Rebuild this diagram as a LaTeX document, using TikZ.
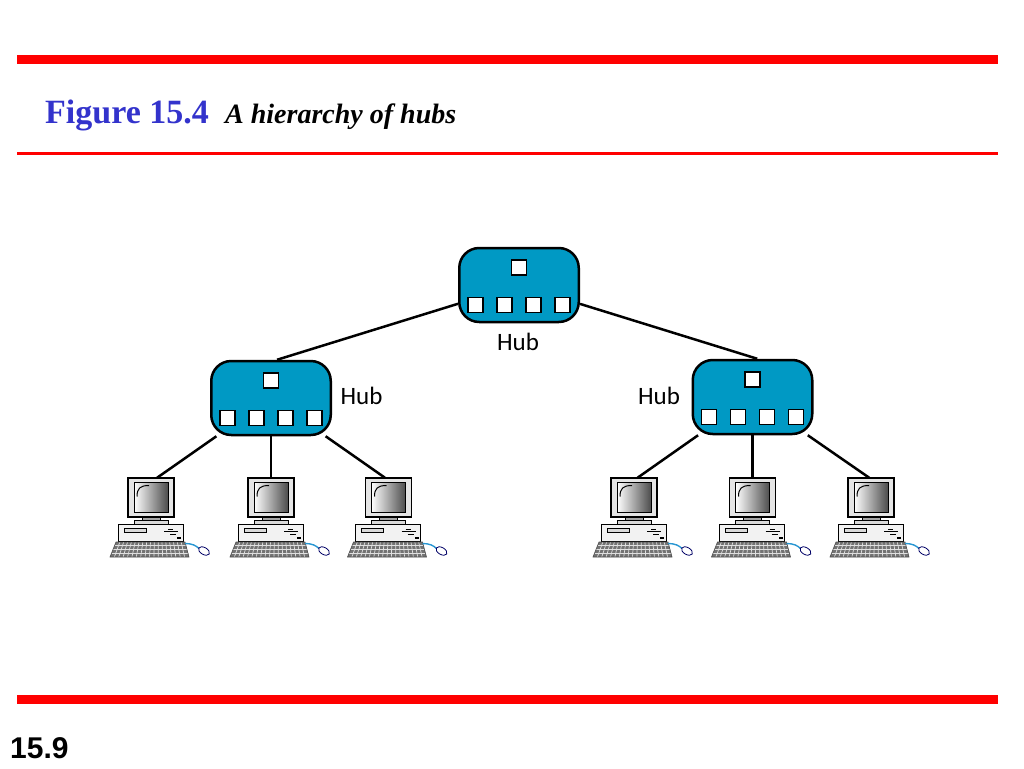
\documentclass[tikz,border=0pt]{standalone}
\usepackage{fontspec}
\setmainfont{Liberation Serif}
\newfontfamily\hubfont{Carlito}
\newfontfamily\numfont{Liberation Sans}
\usetikzlibrary{backgrounds}
\definecolor{hubblue}{RGB}{0,153,196}
\definecolor{figblue}{RGB}{51,51,204}
\definecolor{barred}{RGB}{255,0,0}
\definecolor{cableblue}{RGB}{40,150,210}
\tikzset{
  hubbox/.style={draw=black, line width=2.5pt, fill=hubblue, rounded corners=20pt,
    minimum width=119.5pt, minimum height=74pt, inner sep=0pt},
  port/.style={draw=black, line width=1.8pt, fill=white, minimum size=15pt, inner sep=0pt},
  link/.style={line width=2.5pt, draw=black},
  hublabel/.style={font=\hubfont\fontsize{25}{30}\selectfont, anchor=base, inner sep=0pt},
  pcnode/.style={minimum width=46pt, minimum height=39pt, inner sep=0pt},
  computer/.pic={
    % neck and plate
    \filldraw[fill=black!35, draw=black, line width=0.8pt] (-9,19.5) rectangle (9,22.5);
    \filldraw[fill=black!15, draw=black, line width=0.8pt] (-17,22.5) rectangle (17,26.5);
    % system unit
    \filldraw[fill=black!5, draw=black, line width=1pt] (-33,26.5) rectangle (32,43.5);
    \filldraw[fill=black!15, draw=black, line width=0.8pt] (-27,31) rectangle (-5,35);
    \draw[line width=1.2pt] (13,34) -- (27,34);
    \draw[line width=1pt] (17,31.5) -- (22,31.5);
    \draw[line width=1pt] (19,36.5) -- (25,36.5);
    \fill (26,39.2) rectangle (30,41.5);
    % monitor
    \filldraw[fill=black!10, draw=black, line width=1.2pt] (-23,-19.5) rectangle (23,19.5);
    \shade[left color=white, right color=black!70] (-17,-15) rectangle (17,14.5);
    \draw[line width=0.8pt] (-17,-15) rectangle (17,14.5);
    \draw[line width=1pt] (-14,-1) .. controls (-14,-9) and (-11,-12) .. (-2,-12);
    % keyboard
    \begin{scope}
      \clip (-35,44.5) -- (34,44.5) -- (38,59.5) -- (-41,59.5) -- cycle;
      \fill[black!55] (-45,40) rectangle (45,62);
      \foreach \yy in {48.2,52,55.8}
        \draw[black!12, line width=0.7pt] (-45,\yy) -- (45,\yy);
      \foreach \k in {1,...,17}
        \draw[black!12, line width=0.7pt] ({-35+69*\k/18},44.5) -- ({-41+79*\k/18},59.5);
    \end{scope}
    \draw[black!70, line width=0.6pt] (-35,44.5) -- (34,44.5) -- (38,59.5) -- (-41,59.5) -- cycle;
    % mouse
    \draw[cableblue, line width=1.4pt] (34,46) .. controls (41,46) and (45,48) .. (48,51);
    \filldraw[fill=white, draw=black!60!blue, line width=0.8pt, rotate around={-30:(53,53.5)}]
      (53,53.5) ellipse (6 and 3.5);
  }
}
\begin{document}
\begin{tikzpicture}[x=1pt, y=-1pt]
\useasboundingbox (0,0) rectangle (1024,768);
% frame bars
\fill[barred] (17,55.5) rectangle (998,63.5);
\fill[barred] (17,152) rectangle (998,154.5);
\fill[barred] (17,695) rectangle (998,703.5);
% titles
\node[anchor=base west, inner sep=0pt, text=figblue, font=\bfseries\fontsize{34}{40}\selectfont] (figno) at (45,123) {Figure 15.4};
\node[anchor=base west, inner sep=0pt, font=\bfseries\itshape\fontsize{28}{34}\selectfont] (figtitle) at (225,123) {A hierarchy of hubs};
\node[anchor=base west, inner sep=0pt, font=\numfont\bfseries\fontsize{30}{36}\selectfont] (pageno) at (10,758) {15.9};
% hubs
\node[hubbox] (hubT) at (519,285) {};
\node[hubbox] (hubL) at (271,398) {};
\node[hubbox] (hubR) at (752.5,397) {};
\foreach \h in {hubT,hubL,hubR}{
  \node[port] (\h-t) at ([shift={(0,-17.5)}]\h.center) {};
  \foreach \i/\dx in {1/-43.5,2/-14.5,3/14.5,4/43.5}
    \node[port] (\h-p\i) at ([shift={(\dx,20)}]\h.center) {};
}
\node[hublabel] (labT) at (518,350) {Hub};
\node[hublabel] (labL) at (361.5,404) {Hub};
\node[hublabel] (labR) at (659,404) {Hub};
% computers
\foreach \n/\x in {1/151,2/271,3/388.5,4/634,5/752.5,6/871}{
  \node[pcnode] (pc\n) at (\x,497.5) {};
  \pic at (\x,497.5) {computer};
}
% connectors
\begin{scope}[on background layer]
  \draw[link] (hubT) -- (hubL.81);
  \draw[link] (hubT) -- (hubR.83);
  \draw[link] (hubL) -- (pc1.73);
  \draw[link] (hubL) -- (pc2.north);
  \draw[link] (hubL) -- (pc3.100);
  \draw[link] (hubR) -- (pc4.80);
  \draw[link] (hubR) -- (pc5.north);
  \draw[link] (hubR) -- (pc6.95);
\end{scope}
\end{tikzpicture}
\end{document}
